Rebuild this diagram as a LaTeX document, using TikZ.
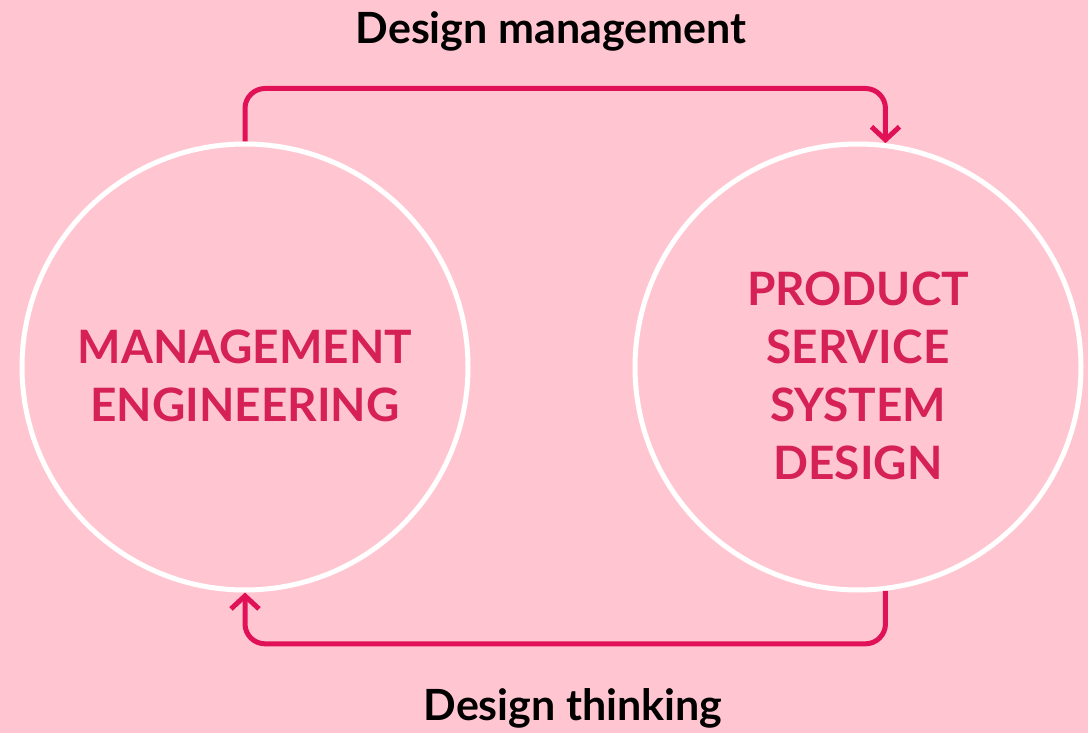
\documentclass[tikz,border=0pt]{standalone}
\usepackage{fontspec}
\setmainfont{Lato}
\usetikzlibrary{arrows.meta,positioning,calc}
\definecolor{bgpink}{RGB}{255,198,209}
\definecolor{darkred}{RGB}{214,33,86}
\definecolor{flowred}{RGB}{224,17,87}

\begin{document}
\begin{tikzpicture}[x=1pt,y=-1pt,
    ring/.style={circle, draw=white, line width=5pt, minimum size=446pt, inner sep=0pt},
    ringtext/.style={text=darkred, font=\fontsize{46}{58}\selectfont\bfseries, align=center},
    caption/.style={text=black, font=\fontsize{43}{50}\selectfont\bfseries},
    flow/.style={flowred, line width=5pt, rounded corners=20pt, -{Straight Barb[length=13pt,width=28pt]}}]
    % background
    \fill[bgpink] (0,0) rectangle (1088,733);
    \useasboundingbox (0,0) rectangle (1088,733);
    % the two circles
    \node[ring] (mecirc) at (245,367) {};
    \node[ring] (psscirc) at (858,367) {};
    \node[ringtext] (metext) at ($(mecirc)+(0,9)$) {MANAGEMENT\\ENGINEERING};
    \node[ringtext] (psstext) at ($(psscirc)+(0,9)$) {PRODUCT\\SERVICE\\SYSTEM\\DESIGN};
    % connectors
    \draw[flow] (mecirc.north) -- ++(0,-53) -| (psscirc.83);
    \draw[flow] (psscirc.-83) -- ++(0,53) -| (mecirc.south);
    % labels
    \node[caption] (dmlabel) at (551,31) {Design management};
    \node[caption] (dtlabel) at (573,708) {Design thinking};
\end{tikzpicture}
\end{document}
